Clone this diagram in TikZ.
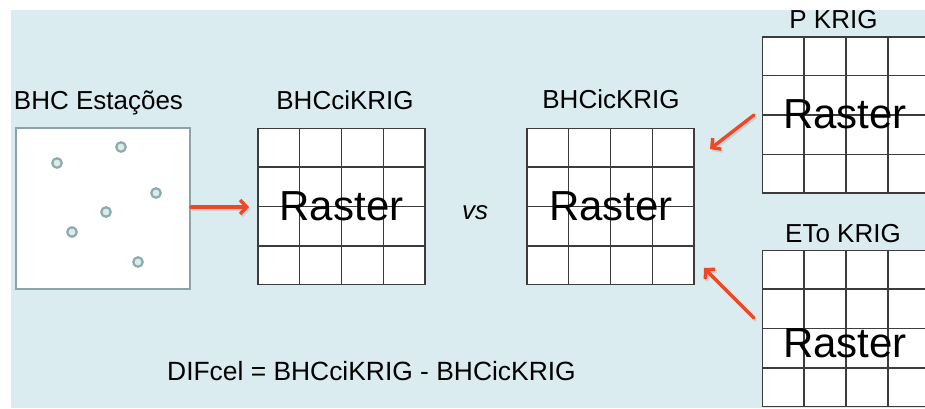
\documentclass[tikz,border=0pt]{standalone}
\usepackage{fontspec}
\setmainfont{Liberation Sans}
\usetikzlibrary{arrows.meta,calc}
\definecolor{bgcyan}{RGB}{218,236,239}
\definecolor{boxgray}{RGB}{140,164,166}
\definecolor{dotring}{RGB}{138,172,174}
\definecolor{dotfill}{RGB}{222,234,234}
\definecolor{arrred}{RGB}{240,72,36}
\definecolor{gridcol}{RGB}{60,60,60}
\tikzset{
  lbl/.style={anchor=base, inner sep=0pt, font=\fontsize{26}{30}\selectfont},
  bigtxt/.style={anchor=base, inner sep=0pt, font=\fontsize{42}{48}\selectfont},
  rasterbox/.style={draw=gridcol, line width=1.4pt, fill=white, minimum width=167pt, minimum height=156pt, inner sep=0pt},
  gridline/.style={draw=gridcol, line width=1.4pt},
  stationbox/.style={draw=boxgray, line width=2.2pt, fill=white, minimum width=174pt, minimum height=161pt, inner sep=0pt},
  stationdot/.style={circle, draw=dotring, fill=dotfill, line width=2.2pt, minimum size=9.5pt, inner sep=0pt},
  redarrow/.style={draw=arrred, line width=3.4pt, -{Straight Barb[length=6.5pt,width=14pt,line width=3.4pt]}, line cap=round, line join=round},
  shadowarrow/.style={draw=black!35, opacity=0.35, line width=3.4pt, -{Straight Barb[length=6.5pt,width=14pt,line width=3.4pt]}, line cap=round, line join=round},
}
\newcommand{\rastergrid}[1]{%
  \foreach \i in {1,2,3}{%
    \draw[gridline] ($(#1.north west)!\i/4!(#1.north east)$) -- ($(#1.south west)!\i/4!(#1.south east)$);
    \draw[gridline] ($(#1.north west)!\i/4!(#1.south west)$) -- ($(#1.north east)!\i/4!(#1.south east)$);
  }%
}
\begin{document}
\begin{tikzpicture}[x=1pt,y=-1pt]
\useasboundingbox (0,0) rectangle (925,408);
\clip (0,0) rectangle (925,408);
\fill[white] (0,0) rectangle (925,408);
\fill[bgcyan] (11,10) rectangle (925,408);

% stations box
\node[stationbox] (est) at (103,208.5) {};
\node[lbl] (lest) at (98.5,109) {BHC Estações};
\node[stationdot] (d1) at (57,163) {};
\node[stationdot] (d2) at (121,147) {};
\node[stationdot] (d3) at (156,193) {};
\node[stationdot] (d4) at (106,212) {};
\node[stationdot] (d5) at (72,232) {};
\node[stationdot] (d6) at (138,262) {};

% raster 1
\node[rasterbox] (r1) at (341.5,206.5) {};
\rastergrid{r1}
\node[bigtxt] (t1) at (341.5,220.5) {Raster};
\node[lbl] (l1) at (345,109) {BHCciKRIG};

% vs
\node[anchor=base, inner sep=0pt, font=\fontsize{26}{30}\selectfont\itshape] (vs) at (475,219) {vs};

% raster 2
\node[rasterbox] (r2) at (610.5,206.5) {};
\rastergrid{r2}
\node[bigtxt] (t2) at (611,220) {Raster};
\node[lbl] (l2) at (611,108) {BHCicKRIG};

% P KRIG raster
\node[rasterbox] (rp) at (846,115) {};
\rastergrid{rp}
\node[bigtxt] (tp) at (845,128) {Raster};
\node[lbl] (lp) at (833.5,28) {P KRIG};

% ETo KRIG raster
\node[rasterbox] (re) at (846,328.5) {};
\rastergrid{re}
\node[bigtxt] (te) at (845,357) {Raster};
\node[lbl] (le) at (843,242) {ETo KRIG};

% formula
\node[anchor=base west, inner sep=0pt, font=\fontsize{26.4}{30}\selectfont] (form) at (167,380) {DIFcel = BHCciKRIG - BHCicKRIG};

% arrows
\coordinate (a1s) at (191,207);
\coordinate (a1e) at (249,207);
\coordinate (a2s) at (754,115);
\coordinate (a2e) at (710,149);
\coordinate (a3s) at (754,318);
\coordinate (a3e) at (704,268);
\draw[shadowarrow] ($(a1s)+(1.5,2)$) -- ($(a1e)+(1.5,2)$);
\draw[shadowarrow] ($(a2s)+(1.5,2)$) -- ($(a2e)+(1.5,2)$);
\draw[shadowarrow] ($(a3s)+(1.5,2)$) -- ($(a3e)+(1.5,2)$);
\draw[redarrow] (a1s) -- (a1e);
\draw[redarrow] (a2s) -- (a2e);
\draw[redarrow] (a3s) -- (a3e);
\end{tikzpicture}
\end{document}
